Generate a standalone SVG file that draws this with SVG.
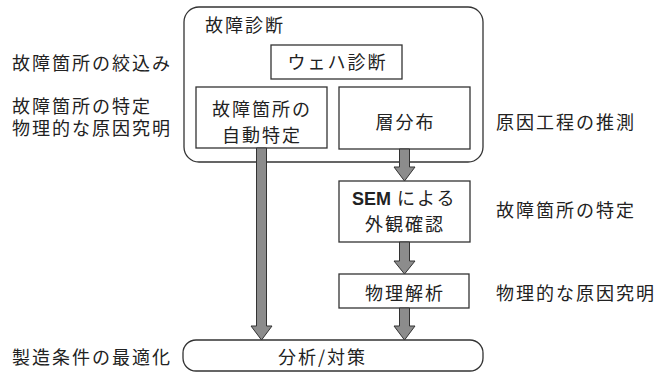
<svg xmlns="http://www.w3.org/2000/svg" width="657" height="373" viewBox="0 0 657 373">
<style>
.t{font-family:"Noto Sans CJK JP","Noto Sans",sans-serif;font-size:18px;letter-spacing:2px;fill:#222}
.m{text-anchor:middle}
.b{fill:#fff;stroke:#333;stroke-width:1.3}
.a{fill:#8c8c8c;stroke:#333;stroke-width:1}
.sem{font-family:"Liberation Sans",Arial,sans-serif;font-weight:bold;letter-spacing:0}
</style>
<rect width="657" height="373" fill="#fff"/>
<g id="labels">
<text class="t" x="12" y="70">故障箇所の絞込み</text>
<text class="t" x="12" y="113">故障箇所の特定<tspan x="12" dy="22">物理的な原因究明</tspan></text>
<text class="t" x="496" y="129">原因工程の推測</text>
<text class="t" x="496" y="217">故障箇所の特定</text>
<text class="t" x="496" y="300">物理的な原因究明</text>
<text class="t" x="12" y="364">製造条件の最適化</text>
</g>
<g id="diagnosis">
<rect class="b" x="184" y="7" width="299" height="155" rx="15"/>
<text class="t" x="205" y="32">故障診断</text>
</g>
<g id="wafer">
<rect class="b" x="271" y="45" width="131" height="34"/>
<text class="t m" x="337.5" y="69">ウェハ診断</text>
</g>
<g id="auto">
<rect class="b" x="196" y="87" width="131" height="61"/>
<text class="t" x="212" y="116">故障箇所の<tspan x="222" dy="26">自動特定</tspan></text>
</g>
<g id="layer">
<rect class="b" x="339" y="87" width="131" height="62"/>
<text class="t m" x="405.5" y="129">層分布</text>
</g>
<g id="sem">
<rect class="b" x="339" y="181" width="131" height="61"/>
<text class="t" x="352" y="205"><tspan class="sem">SEM</tspan><tspan dx="6">による</tspan><tspan x="365" dy="26">外観確認</tspan></text>
</g>
<g id="phys">
<rect class="b" x="339" y="274" width="130" height="34"/>
<text class="t m" x="405" y="300">物理解析</text>
</g>
<g id="analysis">
<rect class="b" x="183" y="340" width="300" height="31" rx="13"/>
<text class="t" x="278" y="364">分析/対策</text>
</g>
<g id="connectors">
<polygon class="a" points="256.5,148 266.5,148 266.5,326 272,326 261.5,340 251,326 256.5,326"/>
<polygon class="a" points="399.5,149 409.5,149 409.5,167 415,167 404.5,181 394,167 399.5,167"/>
<polygon class="a" points="399.5,242 409.5,242 409.5,261 415,261 404.5,274 394,261 399.5,261"/>
<polygon class="a" points="399.5,308 409.5,308 409.5,326 415,326 404.5,340 394,326 399.5,326"/>
</g>
</svg>
